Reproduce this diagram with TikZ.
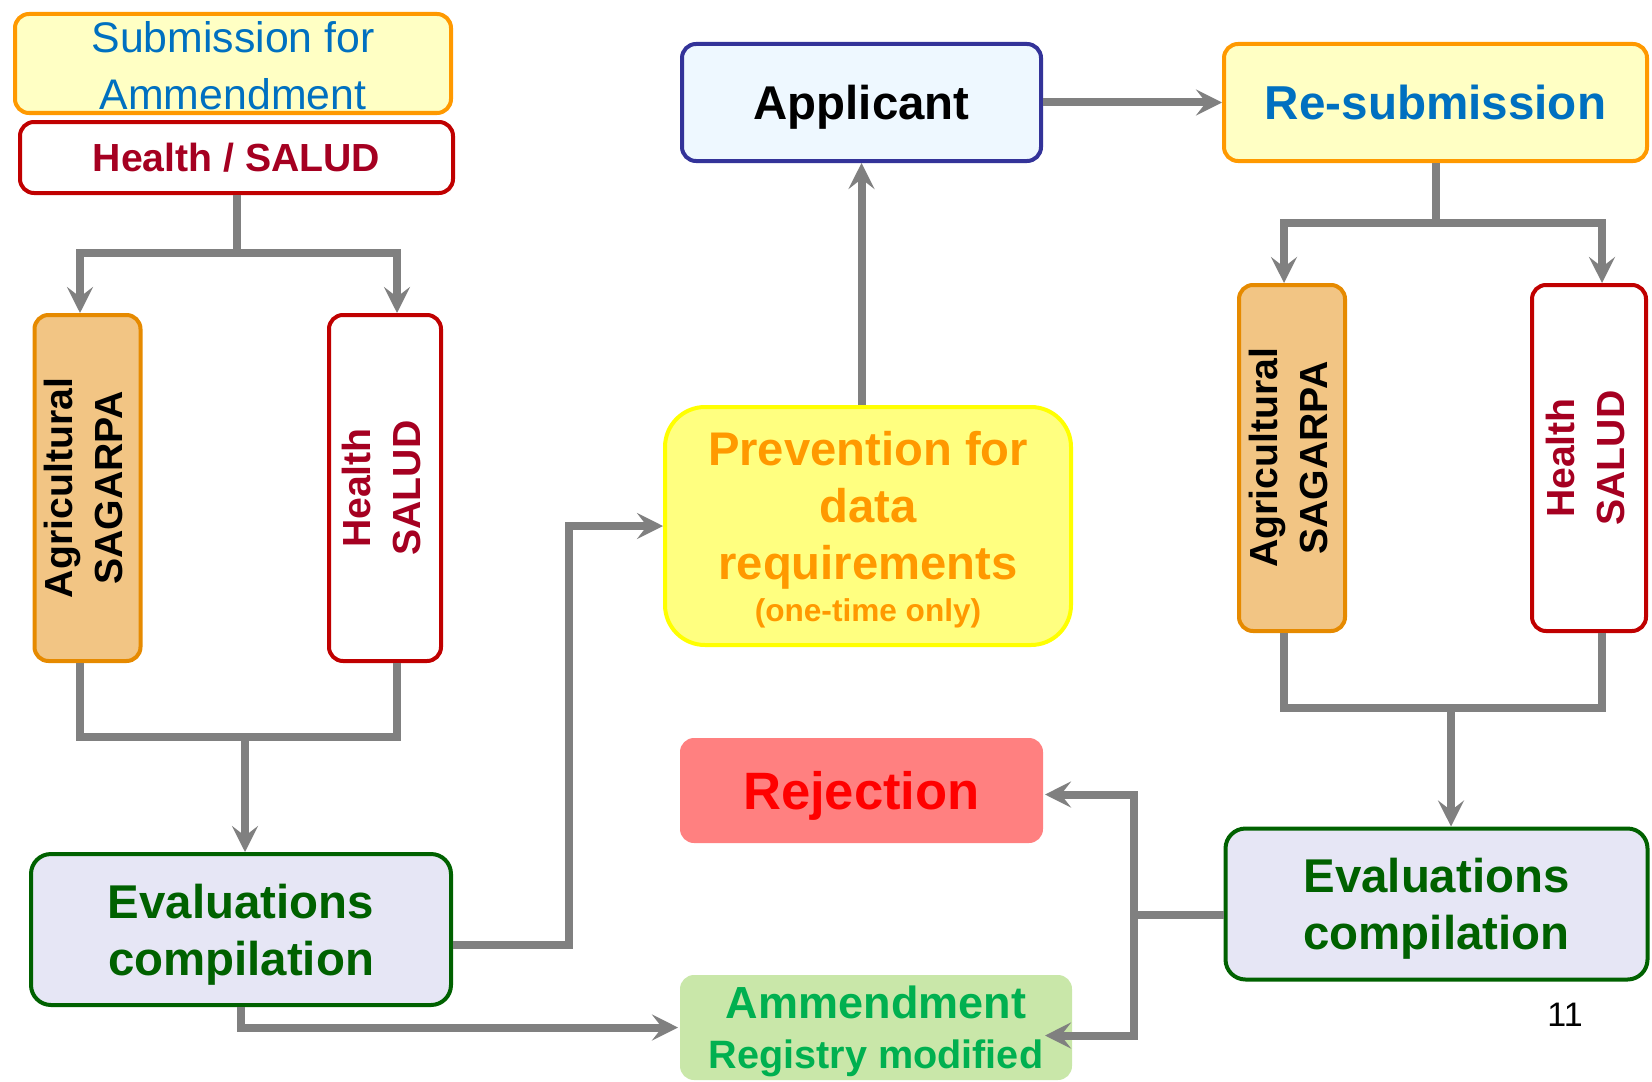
\documentclass[tikz,border=0pt]{standalone}
\usepackage{fontspec}
\setmainfont{Liberation Sans}
\usetikzlibrary{arrows.meta}
\definecolor{lgray}{HTML}{808080}
\definecolor{subfill}{HTML}{FFFFC4}
\definecolor{suborange}{HTML}{FF9900}
\definecolor{subblue}{HTML}{0070C0}
\definecolor{salred}{HTML}{C00000}
\definecolor{saltext}{HTML}{A50021}
\definecolor{agfill}{HTML}{F2C584}
\definecolor{agline}{HTML}{E68A00}
\definecolor{appfill}{HTML}{EEF8FF}
\definecolor{appline}{HTML}{333399}
\definecolor{prevfill}{HTML}{FFFF80}
\definecolor{prevline}{HTML}{FFFF00}
\definecolor{rejfill}{HTML}{FF8080}
\definecolor{rejtext}{HTML}{FF0000}
\definecolor{amdfill}{HTML}{C9E7A9}
\definecolor{amdtext}{HTML}{00B050}
\definecolor{evfill}{HTML}{E6E6F5}
\definecolor{evgreen}{HTML}{006100}
\begin{document}
\begin{tikzpicture}[x=0.5pt,y=-0.5pt,
  box/.style={rounded corners=7pt, line width=2pt, align=center, inner sep=0pt, text depth=0pt},
  agbox/.style={box, fill=agfill, draw=agline, minimum width=53pt, minimum height=173pt},
  salbox/.style={box, fill=white, draw=salred, text=saltext, minimum width=56pt, minimum height=173pt},
  evbox/.style={box, rounded corners=10pt, fill=evfill, draw=evgreen, text=evgreen,
    minimum width=211pt, minimum height=75.5pt, font=\bfseries\fontsize{23.7}{28.5}\selectfont},
  conn/.style={draw=lgray, line width=4pt},
  arr/.style={conn, -{Stealth[length=13pt,width=13pt,inset=5pt]}}]
\useasboundingbox (0,0) rectangle (1652,1081);
% left column
\node[box, fill=subfill, draw=suborange, text=subblue, minimum width=218pt, minimum height=49.5pt,
  font=\fontsize{21.4}{28.5}\selectfont] (sub) at (233,63.5) {\raisebox{-2pt}{Submission for}\\\raisebox{-2pt}{Ammendment}};
\node[box, fill=white, draw=salred, text=saltext, minimum width=216.5pt, minimum height=35.5pt,
  font=\bfseries\fontsize{19.6}{24}\selectfont] (hs) at (236.5,157.5) {Health / SALUD};
\node[agbox] (agL) at (87.5,488)
  {\rotatebox{90}{\fontsize{19.6}{25}\bfseries\selectfont\begin{tabular}{@{}c@{}}Agricultural\\SAGARPA\end{tabular}}};
\node[salbox] (heL) at (385,488)
  {\rotatebox{90}{\fontsize{19.6}{25}\bfseries\selectfont\begin{tabular}{@{}c@{}}Health\\SALUD\end{tabular}}};
\node[evbox, minimum width=210pt] (evL) at (241,929.5) {Evaluations\\compilation};
% middle column
\node[box, fill=appfill, draw=appline, minimum width=179.5pt, minimum height=58.5pt,
  font=\bfseries\fontsize{23.7}{28.5}\selectfont] (app) at (861.5,102.5) {Applicant};
\node[box, rounded corners=20pt, fill=prevfill, draw=prevline, text=suborange, minimum width=203pt,
  minimum height=119pt, font=\bfseries\fontsize{23.6}{28.5}\selectfont] (prev) at (868,526)
  {Prevention for\\data\\requirements\\[-7.5pt]{\fontsize{15.8}{20}\selectfont (one-time only)}};
\node[box, fill=rejfill, text=rejtext, minimum width=181.5pt, minimum height=52.5pt,
  font=\bfseries\fontsize{26.3}{30}\selectfont] (rej) at (861.5,790.5) {Rejection};
\node[box, fill=amdfill, text=amdtext, minimum width=196pt, minimum height=52.5pt,
  font=\bfseries\fontsize{22.5}{25}\selectfont] (amd) at (876,1027.5)
  {Ammendment\\{\fontsize{19.8}{25}\selectfont Registry modified}};
% right column
\node[box, fill=subfill, draw=suborange, text=subblue, minimum width=211.5pt, minimum height=58.5pt,
  font=\bfseries\fontsize{23.8}{28.5}\selectfont] (res) at (1435.5,102.5) {Re-submission};
\node[agbox] (agR) at (1292,458)
  {\rotatebox{90}{\fontsize{19.6}{25}\bfseries\selectfont\begin{tabular}{@{}c@{}}Agricultural\\SAGARPA\end{tabular}}};
\node[salbox, minimum width=57pt] (heR) at (1589,458)
  {\rotatebox{90}{\fontsize{19.6}{25}\bfseries\selectfont\begin{tabular}{@{}c@{}}Health\\SALUD\end{tabular}}};
\node[evbox] (evR) at (1436.5,904) {Evaluations\\compilation};
\node[font=\fontsize{17}{20}\selectfont] (pg) at (1565,1015) {11};
% connectors, left
\draw[conn] (hs.south) -- ++(0,58) coordinate (fL);
\draw[arr] (fL) -| ([xshift=-3.75pt]agL.north);
\draw[arr] (fL) -| ([xshift=6pt]heL.north);
\draw[conn] ([xshift=-3.75pt]agL.south) -- ++(0,74) -| ([xshift=6pt]heL.south);
\coordinate (jL) at (245,737);
\draw[arr] (jL) -- (jL |- evL.north);
\draw[arr] ([yshift=-7.5pt]evL.east) -- ++(116,0) |- (prev.west);
\draw[arr] (evL.south) |- (amd.west);
% connectors, middle
\draw[arr] (prev.north -| app.south) -- (app.south);
\draw[arr] (app.east) -- (res.west);
% connectors, right
\draw[conn] (res.south) -- ++(0,60) coordinate (fR);
\draw[arr] (fR) -| ([xshift=-4pt]agR.north);
\draw[arr] (fR) -| ([xshift=6.5pt]heR.north);
\draw[conn] ([xshift=-4pt]agR.south) -- ++(0,75) -| ([xshift=6.5pt]heR.south);
\coordinate (jR) at (1451,708);
\draw[arr] (jR) -- (jR |- evR.north);
\draw[conn] ([yshift=-5.5pt]evR.west) -- ++(-90,0) coordinate (split);
\draw[arr] (split) |- ([yshift=-2pt]rej.east);
\draw[arr] (split) |- ([yshift=-4pt]amd.east -| rej.east);
\end{tikzpicture}
\end{document}
